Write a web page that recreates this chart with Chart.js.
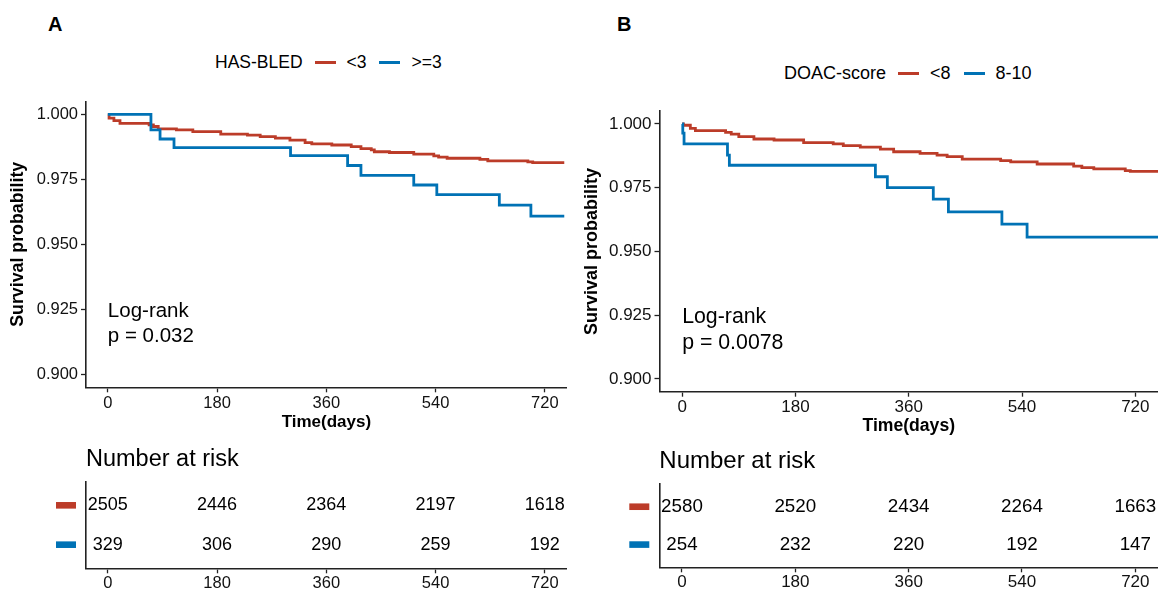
<!DOCTYPE html>
<html>
<head>
<meta charset="utf-8">
<script src="https://cdn.jsdelivr.net/npm/chart.js@4.4.1/dist/chart.umd.min.js"></script>
<style>
html,body{margin:0;padding:0;background:#fff;}
body{width:1158px;height:589px;position:relative;overflow:hidden;font-family:"Liberation Sans",Arial,sans-serif;color:#000;}
canvas{position:absolute;}
.tag{position:absolute;font-weight:bold;font-size:20px;line-height:1;}
.legend{position:absolute;display:flex;align-items:center;white-space:nowrap;line-height:1;}
.legend .sw{display:inline-block;width:21px;height:3px;}
</style>
</head>
<body>
<div class="tag" style="left:48px;top:14px">A</div>
<div class="tag" style="left:617px;top:14px">B</div>
<div class="legend" id="legA" style="left:215px;top:54px;font-size:17.5px"></div>
<div class="legend" id="legB" style="left:784px;top:64px;font-size:18px"></div>
<canvas id="survA" width="580" height="420" style="left:0;top:40px"></canvas>
<canvas id="riskA" width="580" height="160" style="left:0;top:440px"></canvas>
<canvas id="survB" width="578" height="420" style="left:580px;top:40px"></canvas>
<canvas id="riskB" width="578" height="160" style="left:580px;top:440px"></canvas>
<script>
// ------------------------------------------------------------
// data
// ------------------------------------------------------------
var RED = '#BC3C29', BLUE = '#0072B5', AXIS = '#222';
var timeTicks = [0, 180, 360, 540, 720];
var survTicks = [0.900, 0.925, 0.950, 0.975, 1.000];

// panel A : HAS-BLED
var titleA = 'HAS-BLED';
var groupsA = ['<3', '>=3'];
var timesA_low = [0, 2, 10, 20, 68, 75, 83, 113, 140, 186, 230, 251, 276, 300, 325, 336, 369, 401, 417, 434, 439, 464, 504, 537, 545, 559, 613, 626, 692, 700, 752];
var survA_low = [1.0, 0.9985, 0.9976, 0.9965, 0.9959, 0.9953, 0.9944, 0.9940, 0.9933, 0.9924, 0.9920, 0.9914, 0.9908, 0.9901, 0.9891, 0.9886, 0.9882, 0.9876, 0.9868, 0.9863, 0.9856, 0.9853, 0.9847, 0.9840, 0.9835, 0.9831, 0.9827, 0.9821, 0.9817, 0.9814, 0.9814];
var timesA_high = [0, 71, 86, 109, 301, 395, 417, 504, 542, 645, 697, 752];
var survA_high = [1.0, 0.9940, 0.9905, 0.9872, 0.9841, 0.9803, 0.9765, 0.9728, 0.9691, 0.9651, 0.9608, 0.9608];
var riskA_low = [2505, 2446, 2364, 2197, 1618];
var riskA_high = [329, 306, 290, 259, 192];
var pvalA = 'p = 0.032';

// panel B : DOAC-score
var titleB = 'DOAC-score';
var groupsB = ['<8', '8-10'];
var timesB_low = [0, 2, 13, 21, 69, 78, 90, 114, 146, 193, 240, 256, 283, 315, 336, 378, 405, 421, 445, 506, 522, 564, 622, 635, 654, 704, 712, 756];
var survB_low = [1.0, 0.9995, 0.9983, 0.9974, 0.9967, 0.9960, 0.9950, 0.9941, 0.9937, 0.9927, 0.9922, 0.9915, 0.9909, 0.9901, 0.9891, 0.9885, 0.9878, 0.9872, 0.9862, 0.9856, 0.9851, 0.9843, 0.9835, 0.9829, 0.9824, 0.9817, 0.9814, 0.9814];
var timesB_high = [0, 1, 3, 72, 75, 307, 326, 399, 423, 508, 548, 756];
var survB_high = [1.0, 0.9964, 0.9922, 0.9878, 0.9838, 0.9793, 0.9750, 0.9705, 0.9655, 0.9607, 0.9556, 0.9556];
var riskB_low = [2580, 2520, 2434, 2264, 1663];
var riskB_high = [254, 232, 220, 192, 147];
var pvalB = 'p = 0.0078';

var FONT = '"Liberation Sans", Arial, sans-serif';
Chart.defaults.font.family = FONT;
Chart.defaults.color = '#000';

// ------------------------------------------------------------
// legends (html)
// ------------------------------------------------------------
function buildLegend(el, title, groups) {
	var html = '<span>' + title + '</span>';
	var cols = [RED, BLUE];
	groups.forEach(function (g, i) {
		html += '<span class="sw" style="background:' + cols[i] + ';margin-left:' + (i === 0 ? 12 : 13) + 'px;margin-right:11px"></span>';
		html += '<span>' + g.replace('<', '&lt;').replace('>', '&gt;') + '</span>';
	});
	el.innerHTML = html;
}
buildLegend(document.getElementById('legA'), titleA, groupsA);
buildLegend(document.getElementById('legB'), titleB, groupsB);

function toXY(t, s) {
	return t.map(function (v, i) { return {x: v, y: s[i]}; });
}

function setTicks(vals) {
	return function (scale) {
		scale.ticks = vals.map(function (v) { return {value: v}; });
	};
}

// ------------------------------------------------------------
// survival plot
// ------------------------------------------------------------
function makeSurv(id, p) {
	var logRank = {
		id: 'logRank',
		afterDraw: function (chart) {
			var ctx = chart.ctx;
			var px = chart.scales.x.getPixelForValue(0);
			var py = chart.scales.y.getPixelForValue(0.9244);
			ctx.save();
			ctx.font = p.logFont + 'px ' + FONT;
			ctx.fillStyle = '#000';
			ctx.textAlign = 'left';
			ctx.textBaseline = 'middle';
			ctx.fillText('Log-rank', px, py);
			ctx.fillText(p.pval, px, py + p.logFont * 1.22);
			ctx.restore();
		}
	};
	var lineStyle = {borderWidth: 2.8, stepped: true, pointRadius: 0, fill: false};
	return new Chart(document.getElementById(id), {
		type: 'line',
		data: {
			datasets: [
				Object.assign({label: p.groups[0], data: toXY(p.lowT, p.lowS), borderColor: RED, order: 1}, lineStyle),
				Object.assign({label: p.groups[1], data: toXY(p.highT, p.highS), borderColor: BLUE, order: 0}, lineStyle)
			]
		},
		options: {
			responsive: false,
			animation: false,
			events: [],
			layout: {padding: p.pad},
			plugins: {legend: {display: false}, tooltip: {enabled: false}},
			scales: {
				x: {
					type: 'linear', min: -36, max: 756,
					afterBuildTicks: setTicks(timeTicks),
					afterFit: function (s) { s.height = p.xH; },
					grid: {drawOnChartArea: false, tickLength: 5, tickColor: AXIS, tickWidth: 1.3},
					border: {display: true, color: AXIS, width: 1.6},
					ticks: {font: {size: p.tick}, color: '#111', padding: p.xPad, maxRotation: 0, autoSkip: false},
					title: {display: true, text: 'Time(days)', font: {size: p.title, weight: 'bold'}, color: '#000', padding: 0}
				},
				y: {
					type: 'linear', min: 0.895, max: 1.005,
					afterBuildTicks: setTicks(survTicks),
					afterFit: function (s) { s.width = p.yW; },
					grid: {drawOnChartArea: false, tickLength: 5, tickColor: AXIS, tickWidth: 1.3},
					border: {display: true, color: AXIS, width: 1.6},
					ticks: {font: {size: p.tick}, color: '#111', padding: 3, callback: function (v) { return v.toFixed(3); }},
					title: {display: true, text: 'Survival probability', font: {size: p.yTitle, weight: 'bold'}, color: '#000', padding: {top: p.yTitlePad, bottom: 0}}
				}
			}
		},
		plugins: [logRank]
	});
}

// ------------------------------------------------------------
// number at risk table
// ------------------------------------------------------------
function makeRisk(id, p) {
	var counts = [p.low, p.high];
	var riskText = {
		id: 'riskText',
		afterDatasetsDraw: function (chart) {
			var ctx = chart.ctx, area = chart.chartArea;
			ctx.save();
			ctx.textAlign = 'center';
			ctx.textBaseline = 'middle';
			ctx.font = p.numFont + 'px ' + FONT;
			chart.data.datasets.forEach(function (ds, di) {
				var meta = chart.getDatasetMeta(di);
				ctx.fillStyle = '#000';
				meta.data.forEach(function (pt, i) {
					ctx.fillText(String(counts[di][i]), pt.x, pt.y);
				});
				var yy = chart.scales.y.getPixelForValue(ds.data[0].y);
				ctx.fillStyle = ds.borderColor;
				ctx.fillRect(area.left - 30, yy - 3.3, 20, 6.6);
			});
			ctx.textAlign = 'left';
			ctx.fillStyle = '#000';
			ctx.font = p.headFont + 'px ' + FONT;
			ctx.fillText('Number at risk', area.left, p.headY);
			ctx.restore();
		}
	};
	var rowStyle = {showLine: false, pointRadius: 0};
	return new Chart(document.getElementById(id), {
		type: 'line',
		data: {
			datasets: [
				Object.assign({data: timeTicks.map(function (t) { return {x: t, y: 2}; }), borderColor: RED}, rowStyle),
				Object.assign({data: timeTicks.map(function (t) { return {x: t, y: 1}; }), borderColor: BLUE}, rowStyle)
			]
		},
		options: {
			responsive: false,
			animation: false,
			events: [],
			layout: {padding: p.pad},
			plugins: {legend: {display: false}, tooltip: {enabled: false}},
			scales: {
				x: {
					type: 'linear', min: -36, max: 756,
					afterBuildTicks: setTicks(timeTicks),
					afterFit: function (s) { s.height = p.xH; },
					grid: {drawOnChartArea: false, tickLength: 5, tickColor: AXIS, tickWidth: 1.3},
					border: {display: true, color: AXIS, width: 1.6},
					ticks: {font: {size: p.tick}, color: '#111', padding: p.xPad, maxRotation: 0, autoSkip: false}
				},
				y: {
					type: 'linear', min: 0.4, max: 2.6,
					afterFit: function (s) { s.width = p.yW; },
					grid: {drawOnChartArea: false, drawTicks: false},
					border: {display: true, color: AXIS, width: 1.6},
					ticks: {display: false}
				}
			}
		},
		plugins: [riskText]
	});
}

makeSurv('survA', {
	groups: groupsA, lowT: timesA_low, lowS: survA_low, highT: timesA_high, highS: survA_high, pval: pvalA,
	pad: {top: 61.3, right: 13.3, bottom: 27.1, left: 0}, yW: 86, xH: 45.6, xPad: 1,
	tick: 16.5, title: 17, yTitle: 17.8, yTitlePad: 7.5, logFont: 20.5
});
makeSurv('survB', {
	groups: groupsB, lowT: timesB_low, lowS: survB_low, highT: timesB_high, highS: survB_high, pval: pvalB,
	pad: {top: 71.2, right: 0, bottom: 22.8, left: 0}, yW: 79.5, xH: 45.5, xPad: 0,
	tick: 17, title: 17.6, yTitle: 18, yTitlePad: 1, logFont: 21.3
});
makeRisk('riskA', {
	low: riskA_low, high: riskA_high,
	pad: {top: 41.7, right: 13.3, bottom: 0, left: 0}, yW: 86, xH: 31.7, xPad: 0,
	tick: 16.5, numFont: 18, headFont: 23.5, headY: 20
});
makeRisk('riskB', {
	low: riskB_low, high: riskB_high,
	pad: {top: 44, right: 0, bottom: 0, left: 0}, yW: 79.3, xH: 32.7, xPad: 0,
	tick: 17, numFont: 18.8, headFont: 24, headY: 21.7
});
</script>
</body>
</html>
